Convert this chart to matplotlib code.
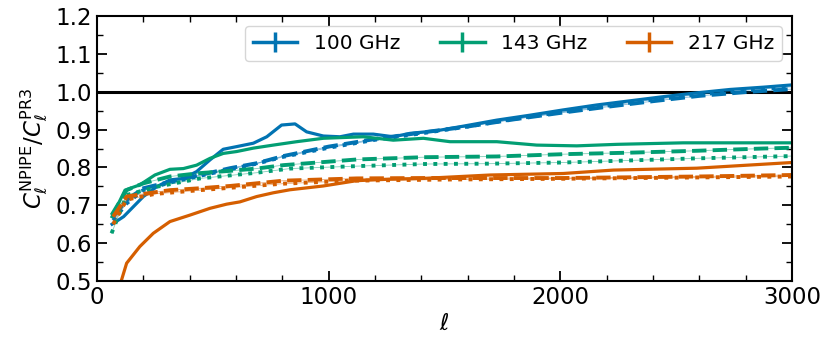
import numpy as np
import matplotlib
matplotlib.use('Agg')
import matplotlib.pyplot as plt
from matplotlib.ticker import MultipleLocator

# colours (seaborn colorblind)
c100 = '#0173b2'
c143 = '#029e73'
c217 = '#d55e00'

# 100 GHz
ell_100_solid = [65, 115, 200, 258, 315, 373, 430, 488, 545, 603, 675, 733, 797, 855, 905,
                 977, 1049, 1107, 1193, 1279, 1351, 1467, 1581, 1726, 1869, 2013, 2157,
                 2301, 2445, 2589, 2733, 2876, 3000]
r_100_solid = [0.650, 0.670, 0.723, 0.749, 0.767, 0.771, 0.789, 0.820, 0.848, 0.855, 0.864,
               0.881, 0.912, 0.915, 0.894, 0.883, 0.881, 0.888, 0.888, 0.881, 0.890, 0.897,
               0.909, 0.925, 0.938, 0.952, 0.965, 0.976, 0.987, 0.997, 1.006, 1.012, 1.018]
ell_100_dash = [70, 128, 200, 315, 445, 574, 689, 804, 1000, 1200, 1400, 1600, 1800, 2000,
                2200, 2400, 2600, 2800, 3000]
r_100_dash = [0.670, 0.714, 0.745, 0.762, 0.780, 0.798, 0.811, 0.830, 0.855, 0.875, 0.892,
              0.908, 0.927, 0.944, 0.960, 0.975, 0.989, 0.999, 1.007]
r_100_dot = [0.660, 0.705, 0.740, 0.760, 0.778, 0.795, 0.810, 0.828, 0.852, 0.873, 0.890,
             0.908, 0.928, 0.946, 0.963, 0.979, 0.993, 1.004, 1.013]

# 143 GHz
ell_143_solid = [65, 121, 185, 250, 315, 373, 430, 488, 545, 603, 675, 761, 862, 977, 1150,
                 1279, 1409, 1524, 1726, 1898, 2071, 2244, 2531, 3000]
r_143_solid = [0.670, 0.740, 0.754, 0.780, 0.795, 0.797, 0.806, 0.824, 0.837, 0.842, 0.851,
               0.859, 0.868, 0.877, 0.881, 0.872, 0.877, 0.868, 0.868, 0.859, 0.857, 0.861,
               0.865, 0.865]
ell_143_dash = [63, 128, 200, 315, 445, 574, 689, 804, 1121, 1409, 1726, 2013, 2301, 2589,
                2876, 3000]
r_143_dash = [0.674, 0.740, 0.758, 0.776, 0.785, 0.791, 0.797, 0.806, 0.821, 0.827, 0.829,
              0.835, 0.839, 0.844, 0.850, 0.852]
ell_143_dot = [63, 128, 258, 445, 689, 833, 1100, 1409, 1700, 2013, 2589, 3000]
r_143_dot = [0.626, 0.727, 0.749, 0.771, 0.786, 0.797, 0.803, 0.809, 0.810, 0.813, 0.824,
             0.830]

# 217 GHz
ell_217_solid = [65, 128, 185, 243, 315, 401, 488, 560, 617, 689, 761, 833, 977, 1121, 1265,
                 1409, 1697, 2013, 2229, 2589, 3000]
r_217_solid = [0.420, 0.547, 0.591, 0.626, 0.657, 0.674, 0.692, 0.703, 0.709, 0.723, 0.733,
               0.741, 0.751, 0.765, 0.769, 0.771, 0.780, 0.784, 0.793, 0.798, 0.813]
ell_217_dash = [70, 128, 200, 315, 445, 574, 689, 804, 1121, 1409, 1697, 2013, 2589, 3000]
r_217_dash = [0.670, 0.723, 0.730, 0.740, 0.745, 0.751, 0.758, 0.765, 0.771, 0.772, 0.772,
              0.772, 0.776, 0.780]
ell_217_dot = [70, 128, 250, 445, 800, 1100, 1500, 2000, 2500, 3000]
r_217_dot = [0.650, 0.715, 0.730, 0.740, 0.757, 0.765, 0.768, 0.770, 0.773, 0.776]

fig = plt.figure(figsize=(8.31, 3.56), dpi=100)
ax = fig.add_axes([0.1167, 0.2107, 0.8363, 0.7443])

ax.axhline(1.0, color='k', lw=2.2, zorder=1)

series = [
    (c100, ell_100_solid, r_100_solid, ell_100_dash, r_100_dash, ell_100_dash, r_100_dot),
    (c143, ell_143_solid, r_143_solid, ell_143_dash, r_143_dash, ell_143_dot, r_143_dot),
    (c217, ell_217_solid, r_217_solid, ell_217_dash, r_217_dash, ell_217_dot, r_217_dot),
]
for col, ls_, rs, ld, rd, lo, ro in series:
    ax.plot(ls_, rs, color=col, lw=2.3, solid_joinstyle='round')
    ax.plot(ld, rd, color=col, lw=0.6, alpha=0.5)
    ax.plot(ld, rd, color=col, lw=2.8, ls='--')
    ax.plot(lo, ro, color=col, lw=0.6, alpha=0.5)
    ax.plot(lo, ro, color=col, lw=2.8, ls=':')

# legend handles drawn as errorbars
labels = ['100 GHz', '143 GHz', '217 GHz']
handles = []
for col in [c100, c143, c217]:
    h = ax.errorbar([], [], yerr=[], color=col, lw=2.5, elinewidth=2.5)
    handles.append(h)
leg = ax.legend(handles, labels, loc='upper right', ncol=3, fontsize=14.5,
                handlelength=2.2, columnspacing=2.0, fancybox=True, framealpha=0.8,
                edgecolor='#cccccc')

ax.set_xlim(0, 3000)
ax.set_ylim(0.5, 1.2)
ax.xaxis.set_major_locator(MultipleLocator(1000))
ax.xaxis.set_minor_locator(MultipleLocator(200))
ax.yaxis.set_major_locator(MultipleLocator(0.1))
ax.yaxis.set_minor_locator(MultipleLocator(0.05))
ax.tick_params(which='both', direction='in', top=True, right=True, labelsize=16.5)
ax.tick_params(which='major', length=7, width=1.3)
ax.tick_params(which='minor', length=4, width=1.0)
for s in ax.spines.values():
    s.set_linewidth(1.5)

ax.set_xlabel(r'$\ell$', fontsize=16.5, labelpad=2)
ax.set_ylabel(r'$C_\ell^{\rm NPIPE}/C_\ell^{\rm PR3}$', fontsize=16.5, labelpad=4)

fig.savefig('out.png', dpi=100)
